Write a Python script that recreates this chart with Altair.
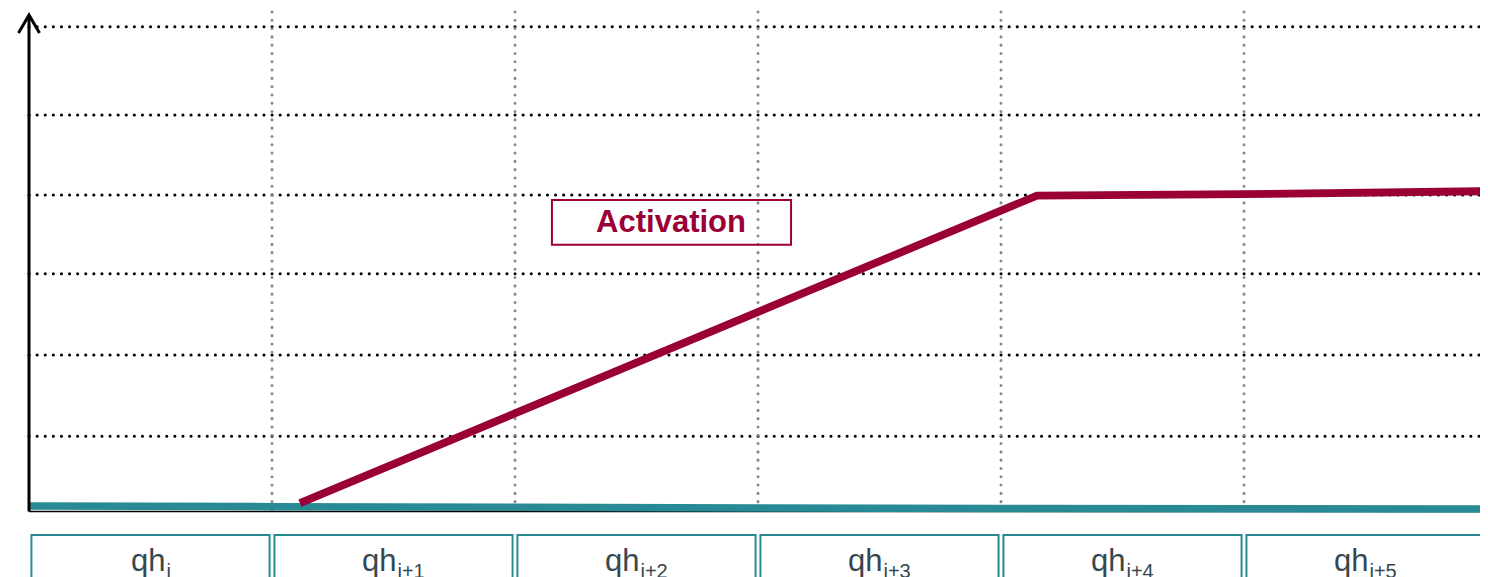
import altair as alt
import pandas as pd

# ---------------- data ----------------
slot_index = [0, 1, 2, 3, 4, 5]
slot_sub = ["i", "i+1", "i+2", "i+3", "i+4", "i+5"]
slot_main = "qh"

grid_levels = [15.0, 31.5, 48.0, 64.0, 80.3, 98.2]   # dotted horizontal guides
slot_bounds = [1, 2, 3, 4, 5, 6]                     # dotted vertical guides

activation_x = [1.115, 4.148, 5.0, 6.0]
activation_y = [1.4, 63.9, 64.2, 64.8]

baseline_x = [0, 1, 2, 3, 4, 5, 6]
baseline_y = [0.8, 0.68, 0.55, 0.42, 0.33, 0.25, 0.2]

label_text = "Activation"

# ---------------- styling / layout constants ----------------
RED = "#9a0036"
TEAL = "#278a95"
TXT = "#37474f"
FONT = "Liberation Sans"

xs = alt.Scale(domain=[0, 6], range=[21, 1479], nice=False, zero=False)
ys = alt.Scale(domain=[0, 100], range=[502, 10], nice=False, zero=False)

# ---------------- tables ----------------
hgrid = pd.DataFrame({"y": grid_levels, "x0": 0.0, "x1": 6.0})
vgrid = pd.DataFrame({"x": slot_bounds, "y0": 0.0, "y1": 102.5})
act = pd.DataFrame({"x": activation_x, "y": activation_y})
base = pd.DataFrame({"x": baseline_x, "y": baseline_y})
axis_df = pd.DataFrame({"x": [0.0], "y0": [-0.3], "y1": [100.6], "x1": [6.0]})

slots = pd.DataFrame({"idx": slot_index, "sub": slot_sub})
slots["bx"] = slots["idx"] + 0.01
slots["bx2"] = [i + 0.99 if i < 5 else 6.3 for i in slot_index]
slots["by"] = -5.1
slots["by2"] = -30.0
sub_w = slots["sub"].str.len().map(lambda n: 5 if n == 1 else 29)
slots["tx"] = slots["idx"] + 0.5 + (35 - sub_w) / 2 / 243.0
slots["ty"] = -12.3
slots["sy"] = -13.9

ann = pd.DataFrame({"x": [2.152], "x2": [3.136], "y": [53.9], "y2": [63.0],
                    "tx": [2.642], "ty": [58.4], "t": [label_text]})

X = lambda f: alt.X(f, type="quantitative", scale=xs, axis=None)
Y = lambda f: alt.Y(f, type="quantitative", scale=ys, axis=None)

h_layer = alt.Chart(hgrid).mark_rule(
    color="black", strokeWidth=3, strokeDash=[0.1, 8], strokeCap="round"
).encode(x=X("x0"), x2="x1", y=Y("y"))

v_layer = alt.Chart(vgrid).mark_rule(
    color="#8a8a8a", strokeWidth=3, strokeDash=[0.1, 8.2], strokeCap="round"
).encode(x=X("x"), y=Y("y0"), y2="y1")

xaxis_layer = alt.Chart(axis_df).mark_rule(color="black", strokeWidth=1.6).encode(
    x=X("x"), x2="x1", y=Y("y0"))

base_layer = alt.Chart(base).mark_line(color=TEAL, strokeWidth=7.5, strokeCap="butt").encode(
    x=X("x"), y=Y("y"))

act_layer = alt.Chart(act).mark_line(color=RED, strokeWidth=7.8, strokeCap="butt",
                                     strokeJoin="miter").encode(x=X("x"), y=Y("y"))

yaxis_layer = alt.Chart(axis_df).mark_rule(color="black", strokeWidth=3).encode(
    x=X("x"), y=Y("y0"), y2="y1")

arrow_layer = alt.Chart(axis_df).mark_point(
    shape="M-1,1.7L0,0L1,1.7", size=441, filled=False, color="black",
    strokeWidth=3, opacity=1, strokeJoin="miter"
).encode(x=X("x"), y=Y("y1"))

ann_box = alt.Chart(ann).mark_rect(fillOpacity=0, stroke=RED, strokeWidth=2).encode(
    x=X("x"), x2="x2", y=Y("y"), y2="y2")
ann_txt = alt.Chart(ann).mark_text(
    font=FONT, fontSize=31, fontWeight="bold", color=RED, align="center", baseline="middle"
).encode(x=X("tx"), y=Y("ty"), text="t:N")

slot_box = alt.Chart(slots).mark_rect(fillOpacity=0, stroke=TEAL, strokeWidth=2).encode(
    x=X("bx"), x2="bx2", y=Y("by"), y2="by2")
slot_main_txt = alt.Chart(slots).mark_text(
    text=slot_main, font=FONT, fontSize=31, color=TXT, align="right", baseline="alphabetic"
).encode(x=X("tx"), y=Y("ty"))
slot_sub_txt = alt.Chart(slots).mark_text(
    font=FONT, fontSize=20, color=TXT, align="left", baseline="alphabetic", dx=1
).encode(x=X("tx"), y=Y("sy"), text="sub:N")

chart = alt.layer(
    h_layer, v_layer, xaxis_layer, base_layer, act_layer, yaxis_layer, arrow_layer,
    ann_box, ann_txt, slot_box, slot_main_txt, slot_sub_txt
).properties(
    width=1472, height=569, padding=0,
    autosize=alt.AutoSizeParams(type="none"),
    background="white",
).configure_view(strokeWidth=0)

chart.save("out.html", embed_options={"renderer": "svg", "actions": False})
